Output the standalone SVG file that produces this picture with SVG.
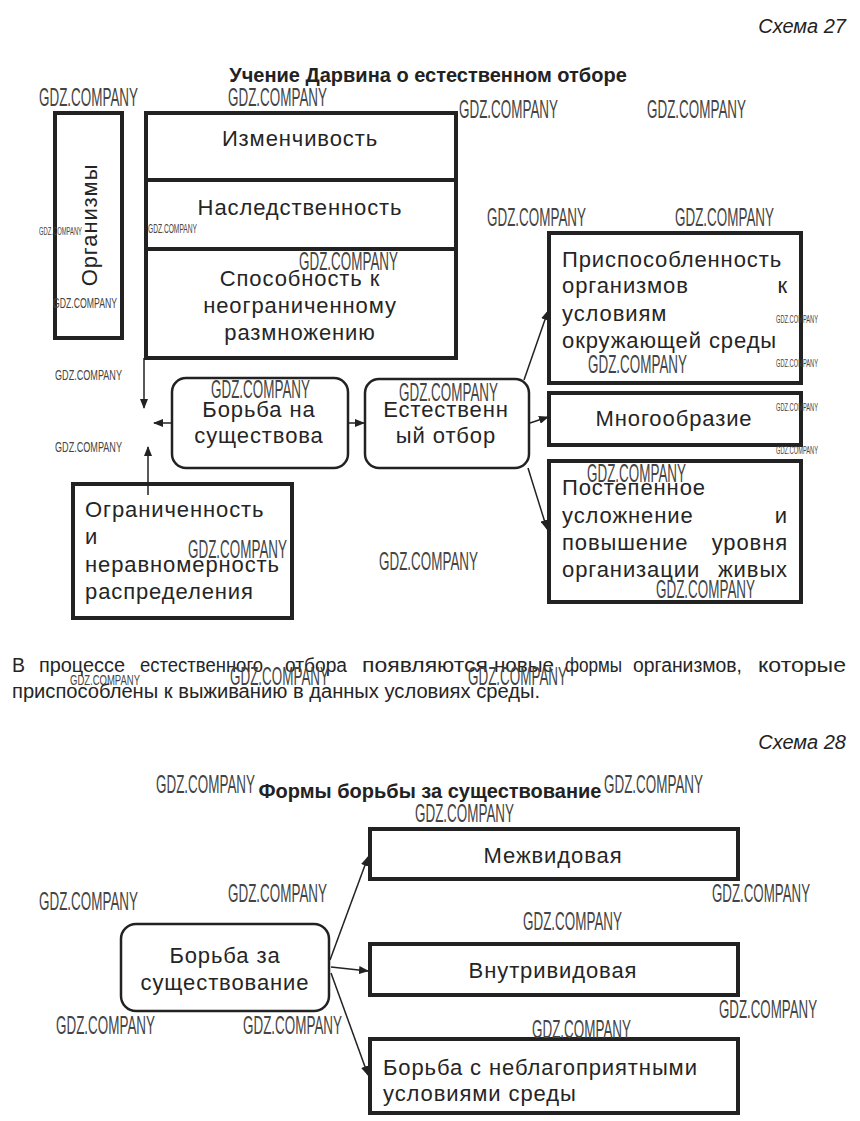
<svg xmlns="http://www.w3.org/2000/svg" width="860" height="1121" viewBox="0 0 860 1121">
<style>
.t{font-family:"Liberation Sans",Arial,sans-serif;font-size:22px;letter-spacing:0.9px;fill:#252525}
.c{text-anchor:middle}
.e{text-anchor:end}
.h{font-family:"Liberation Sans",Arial,sans-serif;font-size:20px;font-weight:bold;fill:#222;text-anchor:middle}
.s{font-family:"Liberation Sans",Arial,sans-serif;font-size:20px;font-style:italic;fill:#222;text-anchor:end}
.p{font-family:"Liberation Sans",Arial,sans-serif;font-size:19.5px;fill:#252525}
.b{fill:#fff;stroke:#222;stroke-width:4}
.r{fill:#fff;stroke:#222;stroke-width:2.5}
.ln{stroke:#222;stroke-width:1.5;fill:none}
.wm{font-family:"Liberation Sans",Arial,sans-serif;fill:#444}
.L{font-size:25px}
.S{font-size:10px}
</style>
<defs>
<marker id="ah" markerWidth="10" markerHeight="8" refX="9" refY="4" orient="auto" markerUnits="userSpaceOnUse"><path d="M0,0 L10,4 L0,8 z" fill="#222"/></marker>
</defs>
<rect width="860" height="1121" fill="#fff"/>

<text class="s" x="846" y="33">Схема 27</text>
<text class="h" x="428" y="82">Учение Дарвина о естественном отборе</text>

<g id="organizmy">
<rect class="b" x="55" y="113" width="67" height="225"/>
<text class="t" font-size="23" letter-spacing="1.5" text-anchor="middle" transform="translate(97,225) rotate(-90)">Организмы</text>
</g>

<g id="stack">
<rect class="b" x="146" y="113" width="310" height="245"/>
<line x1="146" y1="180" x2="456" y2="180" stroke="#222" stroke-width="4"/>
<line x1="146" y1="249" x2="456" y2="249" stroke="#222" stroke-width="4"/>
<text class="t c" x="300" y="146">Изменчивость</text>
<text class="t c" x="300" y="215">Наследственность</text>
<text class="t c" x="300" y="286">Способность к</text>
<text class="t c" x="300" y="313">неограниченному</text>
<text class="t c" x="300" y="340">размножению</text>
</g>

<g id="borba">
<rect class="r" x="172" y="378" width="176" height="90" rx="14"/>
<text class="t c" x="259" y="417">Борьба на</text>
<text class="t c" x="259" y="443">существова</text>
</g>

<g id="otbor">
<rect class="r" x="365" y="379" width="164" height="89" rx="14"/>
<text class="t c" x="446" y="417">Естественн</text>
<text class="t c" x="446" y="443">ый отбор</text>
</g>

<g id="ogranichennost">
<rect class="b" x="73" y="484" width="219" height="134"/>
<text class="t" x="85" y="517">Ограниченность</text>
<text class="t" x="85" y="544">и</text>
<text class="t" x="85" y="572">неравномерность</text>
<text class="t" x="85" y="599">распределения</text>
</g>

<g id="prisposoblennost">
<rect class="b" x="549" y="233" width="252" height="150"/>
<text class="t" x="562" y="267">Приспособленность</text>
<text class="t" x="562" y="293">организмов</text>
<text class="t e" x="788" y="293">к</text>
<text class="t" x="562" y="321">условиям</text>
<text class="t" x="562" y="348">окружающей среды</text>
</g>

<g id="mnogoobrazie">
<rect class="b" x="549" y="393" width="252" height="52"/>
<text class="t c" x="674" y="426">Многообразие</text>
</g>

<g id="uslozhnenie">
<rect class="b" x="549" y="461" width="252" height="141"/>
<text class="t" x="562" y="495">Постепенное</text>
<text class="t" x="562" y="523">усложнение</text>
<text class="t e" x="788" y="523">и</text>
<text class="t" x="562" y="550">повышение</text>
<text class="t e" x="788" y="550">уровня</text>
<text class="t" x="562" y="577">организации</text>
<text class="t e" x="788" y="577">живых</text>
</g>

<g id="connectors27">
<line class="ln" x1="144" y1="358" x2="144" y2="408" marker-end="url(#ah)"/>
<line class="ln" x1="171" y1="423" x2="154" y2="423" marker-end="url(#ah)"/>
<line class="ln" x1="148" y1="495" x2="148" y2="447" marker-end="url(#ah)"/>
<line class="ln" x1="348" y1="423" x2="364" y2="423" marker-end="url(#ah)"/>
<line class="ln" x1="524" y1="380" x2="548" y2="311" marker-end="url(#ah)"/>
<line class="ln" x1="530" y1="423" x2="548" y2="417" marker-end="url(#ah)"/>
<line class="ln" x1="528" y1="468" x2="547" y2="529" marker-end="url(#ah)"/>
</g>

<g id="paragraph">
<text class="p" x="12" y="672" textLength="13" lengthAdjust="spacingAndGlyphs">В</text>
<text class="p" x="39" y="672" textLength="86" lengthAdjust="spacingAndGlyphs">процессе</text>
<text class="p" x="140" y="672" textLength="123" lengthAdjust="spacingAndGlyphs">естественного</text>
<text class="p" x="285" y="672" textLength="62" lengthAdjust="spacingAndGlyphs">отбора</text>
<text class="p" x="362" y="672" textLength="126" lengthAdjust="spacingAndGlyphs">появляются</text>
<text class="p" x="494" y="672" textLength="60" lengthAdjust="spacingAndGlyphs">новые</text>
<text class="p" x="565" y="672" textLength="57" lengthAdjust="spacingAndGlyphs">формы</text>
<text class="p" x="633" y="672" textLength="109" lengthAdjust="spacingAndGlyphs">организмов,</text>
<text class="p" x="758" y="672" textLength="88" lengthAdjust="spacingAndGlyphs">которые</text>
<text class="p" x="12" y="698" textLength="528" lengthAdjust="spacingAndGlyphs">приспособлены к выживанию в данных условиях среды.</text>
</g>

<text class="s" x="846" y="749">Схема 28</text>
<text class="h" x="430" y="798">Формы борьбы за существование</text>

<g id="borba-za">
<rect class="r" x="121" y="924" width="208" height="87" rx="15"/>
<text class="t c" x="225" y="963">Борьба за</text>
<text class="t c" x="225" y="990">существование</text>
</g>

<g id="mezhvidovaya">
<rect class="b" x="370" y="829" width="368" height="50"/>
<text class="t c" x="553" y="863">Межвидовая</text>
</g>

<g id="vnutrividovaya">
<rect class="b" x="370" y="944" width="368" height="51"/>
<text class="t c" x="553" y="978">Внутривидовая</text>
</g>

<g id="neblagopriyatnye">
<rect class="b" x="370" y="1039" width="368" height="74"/>
<text class="t" x="383" y="1075">Борьба с неблагоприятными</text>
<text class="t" x="383" y="1101">условиями среды</text>
</g>

<g id="connectors28">
<line class="ln" x1="330" y1="960" x2="368" y2="857" marker-end="url(#ah)"/>
<line class="ln" x1="331" y1="967" x2="368" y2="971" marker-end="url(#ah)"/>
<line class="ln" x1="331" y1="973" x2="368" y2="1075" marker-end="url(#ah)"/>
</g>

<g id="watermarks">
<text class="wm L" x="39" y="106" textLength="99" lengthAdjust="spacingAndGlyphs">GDZ.COMPANY</text>
<text class="wm L" x="228" y="106" textLength="99" lengthAdjust="spacingAndGlyphs">GDZ.COMPANY</text>
<text class="wm L" x="459" y="118" textLength="99" lengthAdjust="spacingAndGlyphs">GDZ.COMPANY</text>
<text class="wm L" x="647" y="118" textLength="99" lengthAdjust="spacingAndGlyphs">GDZ.COMPANY</text>
<text class="wm L" x="487" y="226" textLength="99" lengthAdjust="spacingAndGlyphs">GDZ.COMPANY</text>
<text class="wm L" x="675" y="226" textLength="99" lengthAdjust="spacingAndGlyphs">GDZ.COMPANY</text>
<text class="wm L" x="299" y="270" textLength="99" lengthAdjust="spacingAndGlyphs">GDZ.COMPANY</text>
<text class="wm L" x="588" y="373" textLength="99" lengthAdjust="spacingAndGlyphs">GDZ.COMPANY</text>
<text class="wm L" x="211" y="398" textLength="99" lengthAdjust="spacingAndGlyphs">GDZ.COMPANY</text>
<text class="wm L" x="399" y="401" textLength="99" lengthAdjust="spacingAndGlyphs">GDZ.COMPANY</text>
<text class="wm L" x="188" y="558" textLength="99" lengthAdjust="spacingAndGlyphs">GDZ.COMPANY</text>
<text class="wm L" x="379" y="570" textLength="99" lengthAdjust="spacingAndGlyphs">GDZ.COMPANY</text>
<text class="wm L" x="587" y="482" textLength="99" lengthAdjust="spacingAndGlyphs">GDZ.COMPANY</text>
<text class="wm L" x="656" y="598" textLength="99" lengthAdjust="spacingAndGlyphs">GDZ.COMPANY</text>
<text class="wm L" x="230" y="685" textLength="99" lengthAdjust="spacingAndGlyphs">GDZ.COMPANY</text>
<text class="wm L" x="468" y="685" textLength="99" lengthAdjust="spacingAndGlyphs">GDZ.COMPANY</text>
<text class="wm L" x="156" y="793" textLength="99" lengthAdjust="spacingAndGlyphs">GDZ.COMPANY</text>
<text class="wm L" x="604" y="793" textLength="99" lengthAdjust="spacingAndGlyphs">GDZ.COMPANY</text>
<text class="wm L" x="415" y="822" textLength="99" lengthAdjust="spacingAndGlyphs">GDZ.COMPANY</text>
<text class="wm L" x="39" y="910" textLength="99" lengthAdjust="spacingAndGlyphs">GDZ.COMPANY</text>
<text class="wm L" x="228" y="902" textLength="99" lengthAdjust="spacingAndGlyphs">GDZ.COMPANY</text>
<text class="wm L" x="712" y="902" textLength="98" lengthAdjust="spacingAndGlyphs">GDZ.COMPANY</text>
<text class="wm L" x="523" y="930" textLength="99" lengthAdjust="spacingAndGlyphs">GDZ.COMPANY</text>
<text class="wm L" x="719" y="1018" textLength="98" lengthAdjust="spacingAndGlyphs">GDZ.COMPANY</text>
<text class="wm L" x="532" y="1038" textLength="99" lengthAdjust="spacingAndGlyphs">GDZ.COMPANY</text>
<text class="wm L" x="56" y="1034" textLength="99" lengthAdjust="spacingAndGlyphs">GDZ.COMPANY</text>
<text class="wm L" x="243" y="1034" textLength="99" lengthAdjust="spacingAndGlyphs">GDZ.COMPANY</text>
<text class="wm S" x="39" y="235" textLength="43" lengthAdjust="spacingAndGlyphs">GDZ.COMPANY</text>
<text class="wm" font-size="12" x="148" y="233" textLength="49" lengthAdjust="spacingAndGlyphs">GDZ.COMPANY</text>
<text class="wm" font-size="15" x="53" y="308" textLength="64" lengthAdjust="spacingAndGlyphs">GDZ.COMPANY</text>
<text class="wm" font-size="14" x="55" y="380" textLength="67" lengthAdjust="spacingAndGlyphs">GDZ.COMPANY</text>
<text class="wm" font-size="14" x="55" y="452" textLength="67" lengthAdjust="spacingAndGlyphs">GDZ.COMPANY</text>
<text class="wm S" x="776" y="323" textLength="42" lengthAdjust="spacingAndGlyphs">GDZ.COMPANY</text>
<text class="wm S" x="776" y="367" textLength="42" lengthAdjust="spacingAndGlyphs">GDZ.COMPANY</text>
<text class="wm S" x="776" y="411" textLength="42" lengthAdjust="spacingAndGlyphs">GDZ.COMPANY</text>
<text class="wm S" x="776" y="454" textLength="42" lengthAdjust="spacingAndGlyphs">GDZ.COMPANY</text>
<text class="wm" font-size="14" x="70" y="685" textLength="70" lengthAdjust="spacingAndGlyphs">GDZ.COMPANY</text>
</g>
</svg>
